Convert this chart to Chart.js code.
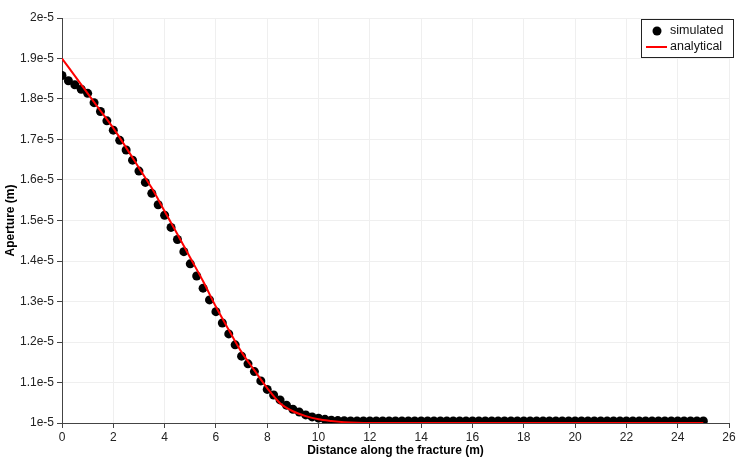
<!DOCTYPE html>
<html>
<head>
<meta charset="utf-8">
<script src="https://cdn.jsdelivr.net/npm/chart.js@4/dist/chart.umd.min.js"></script>
<style>
html,body{margin:0;padding:0;background:#fff;}
#wrap{width:750px;height:462px;position:relative;}
</style>
</head>
<body>
<div id="wrap"><canvas id="c" width="750" height="462"></canvas></div>
<script>
// Simulated aperture (m) vs distance along the fracture (m)
const simX = [0,0.25,0.5,0.75,1,1.25,1.5,1.75,2,2.25,2.5,2.75,3,3.25,3.5,3.75,4,4.25,4.5,4.75,
  5,5.25,5.5,5.75,6,6.25,6.5,6.75,7,7.25,7.5,7.75,8,8.25,8.5,8.75,9,9.25,9.5,9.75,
  10,10.25,10.5,10.75,11,11.25,11.5,11.75,12,12.25,12.5,12.75,13,13.25,13.5,13.75,14,14.25,14.5,14.75,
  15,15.25,15.5,15.75,16,16.25,16.5,16.75,17,17.25,17.5,17.75,18,18.25,18.5,18.75,19,19.25,19.5,19.75,
  20,20.25,20.5,20.75,21,21.25,21.5,21.75,22,22.25,22.5,22.75,23,23.25,23.5,23.75,24,24.25,24.5,24.75,25];
const simY = [1.858e-5,1.845e-5,1.835e-5,1.824e-5,1.814e-5,1.791e-5,1.769e-5,1.746e-5,1.723e-5,1.698e-5,
  1.674e-5,1.649e-5,1.622e-5,1.594e-5,1.567e-5,1.539e-5,1.513e-5,1.483e-5,1.453e-5,1.423e-5,
  1.393e-5,1.363e-5,1.333e-5,1.304e-5,1.275e-5,1.247e-5,1.220e-5,1.193e-5,1.165e-5,1.146e-5,
  1.127e-5,1.104e-5,1.083e-5,1.069e-5,1.057e-5,1.044e-5,1.034e-5,1.027e-5,1.020e-5,1.015e-5,
  1.012e-5,1.009e-5,1.007e-5,1.006e-5,1.0055e-5,1.005e-5,1.005e-5,1.005e-5,1.005e-5,1.005e-5,
  1.005e-5,1.005e-5,1.005e-5,1.005e-5,1.005e-5,1.005e-5,1.005e-5,1.005e-5,1.005e-5,1.005e-5,
  1.005e-5,1.005e-5,1.005e-5,1.005e-5,1.005e-5,1.005e-5,1.005e-5,1.005e-5,1.005e-5,1.005e-5,
  1.005e-5,1.005e-5,1.005e-5,1.005e-5,1.005e-5,1.005e-5,1.005e-5,1.005e-5,1.005e-5,1.005e-5,
  1.005e-5,1.005e-5,1.005e-5,1.005e-5,1.005e-5,1.005e-5,1.005e-5,1.005e-5,1.005e-5,1.005e-5,
  1.005e-5,1.005e-5,1.005e-5,1.005e-5,1.005e-5,1.005e-5,1.005e-5,1.005e-5,1.005e-5,1.005e-5,1.005e-5];

// Analytical aperture (m)
const anaX = [0,0.5,1,1.5,2,2.5,3,3.5,4,4.5,5,5.5,6,6.5,7,7.5,8,8.5,9,9.5,10,10.5,11,11.5,12,25];
const anaY = [1.900e-5,1.857e-5,1.814e-5,1.771e-5,1.728e-5,1.680e-5,1.630e-5,1.580e-5,1.523e-5,1.466e-5,
  1.408e-5,1.350e-5,1.287e-5,1.230e-5,1.175e-5,1.130e-5,1.086e-5,1.049e-5,1.029e-5,1.017e-5,
  1.009e-5,1.005e-5,1.002e-5,1.0005e-5,1.000e-5,1.000e-5];

const seriesLabels = ['simulated','analytical'];
const xTitle = 'Distance along the fracture (m)';
const yTitle = 'Aperture (m)';

const toPts = (xs, ys) => xs.map((x, i) => ({x: x, y: ys[i]}));

const legendBox = {
  id: 'legendBox',
  afterDraw(chart) {
    const ctx = chart.ctx;
    const ds = chart.data.datasets;
    ctx.save();
    const x0 = 641, y0 = 19.5, w = 92, h = 38;
    ctx.fillStyle = '#fff';
    ctx.fillRect(x0, y0, w, h);
    ctx.strokeStyle = '#222';
    ctx.lineWidth = 1;
    ctx.strokeRect(x0 + 0.5, y0, w, h);
    ctx.font = '12.5px "Liberation Sans", Arial, sans-serif';
    ctx.textBaseline = 'middle';
    // row 1 : simulated marker
    ctx.beginPath();
    ctx.arc(657, 31, 4.5, 0, Math.PI * 2);
    ctx.fillStyle = ds[0].backgroundColor;
    ctx.fill();
    ctx.fillStyle = '#111';
    ctx.fillText(ds[0].label, 670, 31);
    // row 2 : analytical line
    ctx.strokeStyle = ds[1].borderColor;
    ctx.lineWidth = 2;
    ctx.beginPath();
    ctx.moveTo(646, 47);
    ctx.lineTo(667, 47);
    ctx.stroke();
    ctx.fillText(ds[1].label, 670, 47);
    ctx.restore();
  }
};

const fmtY = v => {
  const m = Math.round(v * 1e6) / 10;
  return (Number.isInteger(m) ? m.toFixed(0) : m.toFixed(1)) + 'e-5';
};

new Chart(document.getElementById('c'), {
  type: 'scatter',
  data: {
    datasets: [
      {
        label: seriesLabels[0],
        data: toPts(simX, simY),
        showLine: false,
        pointRadius: 4.5,
        pointHoverRadius: 4.5,
        backgroundColor: '#000',
        borderColor: '#000',
        borderWidth: 0,
        order: 2
      },
      {
        label: seriesLabels[1],
        data: toPts(anaX, anaY),
        showLine: true,
        pointRadius: 0,
        borderColor: '#ff0000',
        backgroundColor: '#ff0000',
        borderWidth: 2,
        tension: 0.3,
        order: 1
      }
    ]
  },
  options: {
    responsive: false,
    animation: false,
    layout: {padding: {top: 18, right: 21, bottom: 0, left: 0}},
    plugins: {legend: {display: false}, tooltip: {enabled: false}},
    scales: {
      x: {
        type: 'linear',
        min: 0, max: 26,
        ticks: {stepSize: 2, color: '#222', padding: 2,
          font: {family: '"Liberation Sans", Arial, sans-serif', size: 12}, maxRotation: 0},
        grid: {color: '#efefef', tickColor: '#444', tickLength: 5, drawTicks: true},
        border: {color: '#444', width: 1},
        title: {display: true, text: xTitle, color: '#000', padding: {top: 0, bottom: 4},
          font: {family: '"Liberation Sans", Arial, sans-serif', size: 12, weight: 'bold'}},
        afterFit: s => { s.height = 39; }
      },
      y: {
        type: 'linear',
        min: 1e-5, max: 2e-5,
        ticks: {stepSize: 1e-6, color: '#222', padding: 3, callback: fmtY,
          font: {family: '"Liberation Sans", Arial, sans-serif', size: 12}},
        grid: {color: '#efefef', tickColor: '#444', tickLength: 5, drawTicks: true},
        border: {color: '#444', width: 1},
        title: {display: true, text: yTitle, color: '#000', padding: {top: 3, bottom: 0},
          font: {family: '"Liberation Sans", Arial, sans-serif', size: 12, weight: 'bold'}},
        afterFit: s => { s.width = 62; }
      }
    }
  },
  plugins: [legendBox]
});
</script>
</body>
</html>
